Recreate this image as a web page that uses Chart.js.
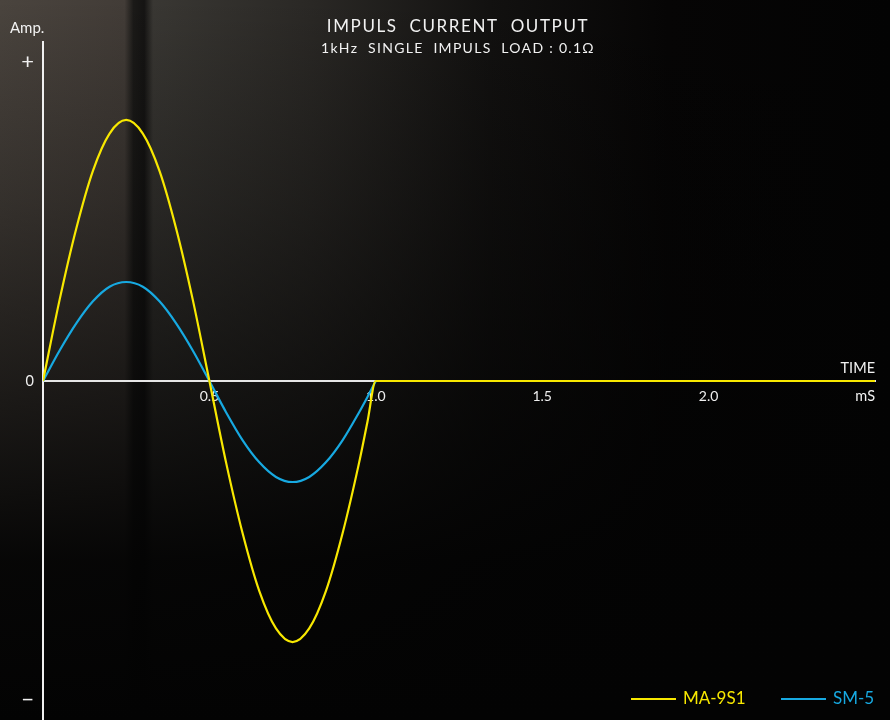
<!DOCTYPE html>
<html>
<head>
<meta charset="utf-8">
<script src="https://cdn.jsdelivr.net/npm/chart.js@4"></script>
<style>
  body { margin: 0; background: #050404; }
  #wrap { width: 890px; height: 720px; }
</style>
</head>
<body>
<div id="wrap"><canvas id="impulsChart" width="890" height="720"></canvas></div>
<script>
// time axis, mS
const time = [0, 0.05, 0.1, 0.15, 0.2, 0.25, 0.3, 0.35, 0.4, 0.45, 0.5,
  0.55, 0.6, 0.65, 0.7, 0.75, 0.8, 0.85, 0.9, 0.95, 0.975, 1.0, 2.5];
// relative amplitude
const ma9s1 = [0, 0.24, 0.45, 0.62, 0.73, 0.77, 0.73, 0.62, 0.45, 0.24, 0,
  -0.24, -0.45, -0.62, -0.73, -0.77, -0.73, -0.62, -0.45, -0.24, -0.12, 0, 0];
const sm5 = [0, 0.09, 0.17, 0.235, 0.278, 0.292, 0.278, 0.235, 0.17, 0.09, 0,
  -0.092, -0.175, -0.24, -0.283, -0.298, -0.283, -0.24, -0.175, -0.092, -0.047, 0];
const xTicks = [0.5, 1.0, 1.5, 2.0];
const yTicks = [-0.94, 0, 0.94];
const yTickLabels = { "-0.94": "\u2212", "0": "0", "0.94": "+" };
const seriesNames = ["MA-9S1", "SM-5"];

const YELLOW = "#f8e800";
const BLUE = "#17a9e1";
const FONT = "Lato, 'Noto Sans', sans-serif";

const toPoints = (vals) => vals.map((v, i) => ({ x: time[i], y: v }));

// dark photo-like backdrop
const backdrop = {
  id: "backdrop",
  beforeDraw(chart) {
    const { ctx, width, height } = chart;
    ctx.save();
    const h = ctx.createLinearGradient(0, 0, width, 0);
    h.addColorStop(0, "#4a443e");
    h.addColorStop(0.14, "#423c37");
    h.addColorStop(0.15, "#1b1a18");
    h.addColorStop(0.162, "#151413");
    h.addColorStop(0.172, "#393733");
    h.addColorStop(0.35, "#2a2825");
    h.addColorStop(0.55, "#121110");
    h.addColorStop(0.75, "#060505");
    h.addColorStop(1, "#030303");
    ctx.fillStyle = h;
    ctx.fillRect(0, 0, width, height);
    const v = ctx.createLinearGradient(0, 0, 0, height);
    v.addColorStop(0, "rgba(3,3,3,0)");
    v.addColorStop(0.28, "rgba(3,3,3,0.3)");
    v.addColorStop(0.55, "rgba(3,3,3,0.65)");
    v.addColorStop(0.78, "rgba(3,3,3,0.95)");
    v.addColorStop(1, "rgba(3,3,3,1)");
    ctx.fillStyle = v;
    ctx.fillRect(0, 0, width, height);
    ctx.restore();
  }
};

// titles, axis captions and legend
const captions = {
  id: "captions",
  afterDraw(chart) {
    const { ctx, chartArea } = chart;
    ctx.save();
    ctx.fillStyle = "#f2f2f2";
    ctx.textBaseline = "middle";

    ctx.textAlign = "center";
    ctx.letterSpacing = "1.6px";
    ctx.font = "17px " + FONT;
    ctx.fillText("IMPULS  CURRENT  OUTPUT", 458, 27);
    ctx.font = "14px " + FONT;
    ctx.letterSpacing = "1.3px";
    ctx.fillText("1kHz  SINGLE  IMPULS  LOAD : 0.1\u03a9", 458, 48);
    ctx.letterSpacing = "0px";

    ctx.font = "15px " + FONT;
    ctx.textAlign = "left";
    ctx.fillText("Amp.", 10, 28);
    ctx.textAlign = "right";
    ctx.font = "14.5px " + FONT;
    ctx.fillText("TIME", chartArea.right, 368);
    ctx.fillText("mS", chartArea.right, 396);

    // legend
    const items = [
      { name: seriesNames[0], color: YELLOW, x: 631 },
      { name: seriesNames[1], color: BLUE, x: 781 }
    ];
    ctx.font = "17px " + FONT;
    ctx.textAlign = "left";
    items.forEach((it) => {
      ctx.strokeStyle = it.color;
      ctx.lineWidth = 2;
      ctx.beginPath();
      ctx.moveTo(it.x, 699);
      ctx.lineTo(it.x + 45, 699);
      ctx.stroke();
      ctx.fillStyle = it.color;
      ctx.fillText(it.name, it.x + 52, 699);
    });
    ctx.restore();
  }
};

new Chart(document.getElementById("impulsChart"), {
  type: "line",
  data: {
    datasets: [
      {
        label: seriesNames[1],
        data: toPoints(sm5),
        borderColor: BLUE,
        borderWidth: 2.2,
        pointRadius: 0,
        cubicInterpolationMode: "monotone",
        order: 2
      },
      {
        label: seriesNames[0],
        data: toPoints(ma9s1),
        borderColor: YELLOW,
        borderWidth: 2.2,
        pointRadius: 0,
        cubicInterpolationMode: "monotone",
        order: 1
      }
    ]
  },
  options: {
    responsive: false,
    animation: false,
    devicePixelRatio: 1,
    layout: { padding: { top: 42, right: 15, bottom: 0, left: 0 } },
    plugins: {
      legend: { display: false },
      tooltip: { enabled: false },
      title: { display: false }
    },
    scales: {
      x: {
        type: "linear",
        min: 0,
        max: 2.5,
        position: { y: 0 },
        afterFit: (scale) => { scale.height = 0; scale.paddingTop = 0; scale.paddingBottom = 0; },
        grid: { display: false, drawTicks: false },
        border: { display: true, color: "#e6e6e6", width: 2 },
        afterBuildTicks: (scale) => { scale.ticks = xTicks.map((v) => ({ value: v })); },
        ticks: {
          color: "#eeeeee",
          font: { family: FONT, size: 14 },
          padding: 7,
          maxRotation: 0,
          callback: (v) => v.toFixed(1)
        }
      },
      y: {
        type: "linear",
        min: -1,
        max: 1,
        position: "left",
        afterFit: (scale) => { scale.width = 43; scale.paddingTop = 0; scale.paddingBottom = 0; },
        grid: { display: false, drawTicks: false },
        border: { display: true, color: "#f0f0f0", width: 2 },
        afterBuildTicks: (scale) => { scale.ticks = yTicks.map((v) => ({ value: v })); },
        ticks: {
          color: "#f0f0f0",
          padding: 9,
          font: (c) => ({ family: FONT, size: c.tick && c.tick.value === 0 ? 14.5 : 22 }),
          callback: (v) => yTickLabels[String(v)]
        }
      }
    }
  },
  plugins: [backdrop, captions]
});
</script>
</body>
</html>
